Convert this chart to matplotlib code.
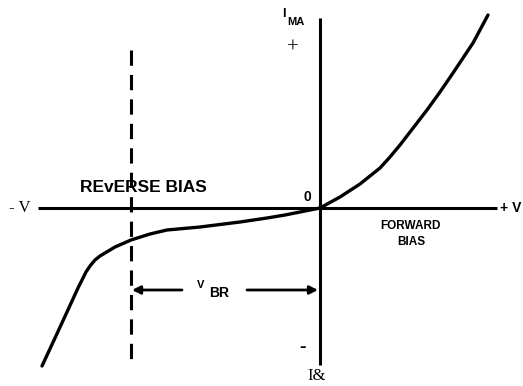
import matplotlib
matplotlib.use("Agg")
import matplotlib.pyplot as plt

# diode I-V curve, voltage / current in drawing units (origin at 0,0)
rev_v = [-278, -265, -253, -242, -234, -230, -225, -220, -205, -189, -170, -153, -120, -80, -53, -35, -20, 0]
rev_i = [-158, -130, -104, -80, -64, -58, -52, -48, -39, -32, -26, -22, -19, -14, -10, -7, -4, 0]
fwd_v = [0, 20, 40, 60, 70, 80, 107, 120, 133, 153, 168]
fwd_i = [0, 11, 24, 40, 51, 63, 98, 116, 135, 165, 193]

v_br = -189          # breakdown voltage marker
axis_x = (-282, 177)
axis_y = (-157, 190)

fig = plt.figure(figsize=(5.23, 3.86), dpi=100)
ax = fig.add_axes([0, 0, 1, 1])
ax.set_xlim(-320, 203)
ax.set_ylim(-178, 208)
ax.axis("off")

lw = 2.2
ax.plot(axis_x, [0, 0], color="black", lw=lw, solid_capstyle="butt")
ax.plot([0, 0], axis_y, color="black", lw=lw, solid_capstyle="butt")

ax.plot(rev_v + fwd_v[1:], rev_i + fwd_i[1:], color="black", lw=2.4,
        solid_joinstyle="round", solid_capstyle="round")

# breakdown dashed line
ax.plot([v_br, v_br], [158, -152], color="black", lw=2.2,
        linestyle=(0, (5, 3.0)))

# V_BR dimension arrows
arr = dict(arrowstyle="-|>", color="black", lw=2.0, mutation_scale=12,
           shrinkA=0, shrinkB=0)
ax.annotate("", xy=(v_br + 1, -82), xytext=(-138, -82), arrowprops=arr)
ax.annotate("", xy=(-2, -82), xytext=(-73, -82), arrowprops=arr)
ax.text(-123, -77, "V", fontsize=8, fontweight="bold", family="Liberation Sans",
        ha="left", va="center")
ax.text(-111, -85, "BR", fontsize=10, fontweight="bold", family="Liberation Sans",
        ha="left", va="center")

sans = dict(family="Liberation Sans", fontweight="bold", color="black")
serif = dict(family="Liberation Serif", color="black")

ax.text(-240, 20, "REvERSE BIAS", fontsize=12.5, ha="left", va="center", **sans)
ax.text(90, -18, "FORWARD", fontsize=8.5, ha="center", va="center", **sans)
ax.text(91, -34, "BIAS", fontsize=8.5, ha="center", va="center", **sans)
ax.text(-13, 11, "0", fontsize=10, ha="center", va="center", **sans)
ax.text(-36, 194, "I", fontsize=9, ha="center", va="center", **sans)
ax.text(-24, 186, "MA", fontsize=8, ha="center", va="center", **sans)
ax.text(-27, 160, "+", fontsize=15, ha="center", va="center", **serif)
ax.text(191, 0, "+ V", fontsize=10, ha="center", va="center", **sans)
ax.text(-300, 0, "- V", fontsize=12, ha="center", va="center", **serif)
ax.text(-17, -139, "-", fontsize=14, ha="center", va="center", **sans)
ax.text(-3, -168, "I&", fontsize=12, ha="center", va="center", **serif)

fig.savefig("out.png", dpi=100)
